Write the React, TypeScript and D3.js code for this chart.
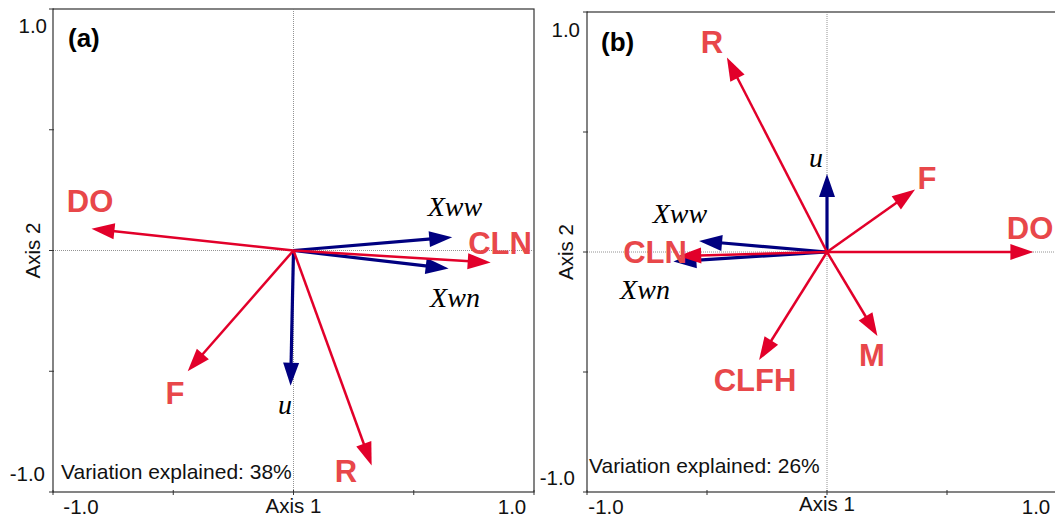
import React, { useRef, useEffect } from 'react';
import * as d3 from 'd3';

// panel (a) arrows: env variables (red) and species/response (blue)
const envA = [
  { name: 'DO', x: -0.84, y: 0.09, lx: 90, ly: 201 },
  { name: 'CLN', x: 0.82, y: -0.05, lx: 500, ly: 243 },
  { name: 'F', x: -0.44, y: -0.5, lx: 175, ly: 393 },
  { name: 'R', x: 0.325, y: -0.89, lx: 346, ly: 471 },
];
const respA = [
  { name: 'Xww', x: 0.66, y: 0.055, lx: 455, ly: 208 },
  { name: 'Xwn', x: 0.645, y: -0.075, lx: 455, ly: 299 },
  { name: 'u', x: -0.012, y: -0.56, lx: 285, ly: 406 },
];

// panel (b)
const envB = [
  { name: 'R', x: -0.417, y: 0.81, lx: 712, ly: 42 },
  { name: 'F', x: 0.367, y: 0.26, lx: 927, ly: 178 },
  { name: 'DO', x: 0.86, y: 0, lx: 1030, ly: 228 },
  { name: 'CLN', x: -0.62, y: -0.017, lx: 655, ly: 252 },
  { name: 'M', x: 0.21, y: -0.35, lx: 872, ly: 355 },
  { name: 'CLFH', x: -0.283, y: -0.45, lx: 755, ly: 380 },
];
const respB = [
  { name: 'u', x: 0, y: 0.325, lx: 816, ly: 159 },
  { name: 'Xww', x: -0.533, y: 0.046, lx: 680, ly: 215 },
  { name: 'Xwn', x: -0.64, y: -0.04, lx: 645, ly: 291 },
];

const ticks = [-1, -0.5, 0, 0.5, 1];

const panels = [
  { tag: '(a)', env: envA, resp: respA, variation: 'Variation explained: 38%',
    x0: 53, x1: 534, y0: 492, y1: 9, tagX: 68, tagY: 47, varX: 61, varY: 479,
    axis2X: 33, yTopX: 47, yTop: 33, yBotX: 45, yBot: 481,
    axis1Y: 513, xTickY: 514, xLeft: 81, xRight: 512 },
  { tag: '(b)', env: envB, resp: respB, variation: 'Variation explained: 26%',
    x0: 587, x1: 1067, y0: 492, y1: 12, tagX: 601, tagY: 51, varX: 589, varY: 473,
    axis2X: 566, yTopX: 580, yTop: 37, yBotX: 575, yBot: 485,
    axis1Y: 511, xTickY: 514, xLeft: 606, xRight: 1036 },
];

const RED = '#e2002a';
const RED_TXT = '#e8474a';
const BLUE = '#000080';
const SANS = 'Liberation Sans, Arial, sans-serif';

function App() {
  const ref = useRef<SVGSVGElement>(null);

  useEffect(() => {
    const svg = d3.select(ref.current);
    svg.selectAll('*').remove();

    panels.forEach(p => {
      const x = d3.scaleLinear().domain([-1, 1]).range([p.x0, p.x1]);
      const y = d3.scaleLinear().domain([-1, 1]).range([p.y0, p.y1]);
      const g = svg.append('g');

      // box
      g.append('rect')
        .attr('x', p.x0).attr('y', p.y1)
        .attr('width', p.x1 - p.x0).attr('height', p.y0 - p.y1)
        .attr('fill', 'none').attr('stroke', '#333').attr('stroke-width', 1.2);

      // dotted zero lines
      g.append('line').attr('x1', x(0)).attr('x2', x(0)).attr('y1', p.y1).attr('y2', p.y0)
        .attr('stroke', '#777').attr('stroke-width', 0.8).attr('stroke-dasharray', '1,1');
      g.append('line').attr('x1', p.x0).attr('x2', p.x1).attr('y1', y(0)).attr('y2', y(0))
        .attr('stroke', '#777').attr('stroke-width', 0.8).attr('stroke-dasharray', '1,1');

      // ticks
      ticks.forEach(t => {
        g.append('line').attr('x1', x(t)).attr('x2', x(t)).attr('y1', p.y0 - 2).attr('y2', p.y0 + 3)
          .attr('stroke', '#333');
        g.append('line').attr('x1', p.x0 - 4).attr('x2', p.x0 + 1).attr('y1', y(t)).attr('y2', y(t))
          .attr('stroke', '#333');
      });

      const lab = (txt: string, tx: number, ty: number, anchor: string) =>
        g.append('text').attr('x', tx).attr('y', ty).attr('text-anchor', anchor)
          .attr('font-family', SANS).attr('font-size', 20.5)
          .attr('fill', '#111').text(txt);

      lab('-1.0', p.xLeft, p.xTickY, 'middle');
      lab('Axis 1', x(0), p.axis1Y, 'middle');
      lab('1.0', p.xRight, p.xTickY, 'middle');
      lab('1.0', p.yTopX, p.yTop, 'end');
      lab('-1.0', p.yBotX, p.yBot, 'end');
      g.append('text')
        .attr('transform', 'translate(' + p.axis2X + ',' + y(0) + ') rotate(-90)')
        .attr('text-anchor', 'middle').attr('dy', '0.35em')
        .attr('font-family', SANS).attr('font-size', 20.5)
        .attr('fill', '#111').text('Axis 2');

      g.append('text').attr('x', p.tagX).attr('y', p.tagY)
        .attr('font-family', SANS).attr('font-size', 26)
        .attr('font-weight', 'bold').attr('fill', '#000').text(p.tag);

      g.append('text').attr('x', p.varX).attr('y', p.varY)
        .attr('font-family', SANS).attr('font-size', 21)
        .attr('fill', '#111').text(p.variation);

      const arrow = (d: { x: number; y: number }, color: string) => {
        const ox = x(0), oy = y(0);
        const tx = x(d.x), ty = y(d.y);
        const ang = Math.atan2(ty - oy, tx - ox);
        const hl = 23, hw = 8;
        const bx = tx - hl * Math.cos(ang), by = ty - hl * Math.sin(ang);
        g.append('line').attr('x1', ox).attr('y1', oy).attr('x2', bx + 2 * Math.cos(ang)).attr('y2', by + 2 * Math.sin(ang))
          .attr('stroke', color).attr('stroke-width', color === BLUE ? 3.2 : 2.5);
        const pts = [
          [tx, ty],
          [bx - hw * Math.sin(ang), by + hw * Math.cos(ang)],
          [bx + hw * Math.sin(ang), by - hw * Math.cos(ang)],
        ];
        g.append('polygon').attr('points', pts.map(q => q.join(',')).join(' ')).attr('fill', color);
      };

      p.resp.forEach(d => arrow(d, BLUE));
      p.env.forEach(d => arrow(d, RED));

      g.selectAll('.envlab').data(p.env).enter().append('text')
        .attr('x', d => d.lx).attr('y', d => d.ly)
        .attr('text-anchor', 'middle').attr('dy', '0.36em')
        .attr('font-family', SANS).attr('font-size', 31)
        .attr('font-weight', 'bold').attr('fill', RED_TXT).text(d => d.name);

      g.selectAll('.resplab').data(p.resp).enter().append('text')
        .attr('x', d => d.lx).attr('y', d => d.ly)
        .attr('text-anchor', 'middle').attr('dy', '0.3em')
        .attr('font-family', 'Liberation Serif, Times New Roman, serif').attr('font-size', 28)
        .attr('font-style', 'italic').attr('fill', '#000').text(d => d.name);
    });
  }, []);

  return (
    <svg ref={ref} width={1055} height={519}
      style={{ position: 'absolute', left: 0, top: 0, background: '#fff' }} />
  );
}

export default App;
